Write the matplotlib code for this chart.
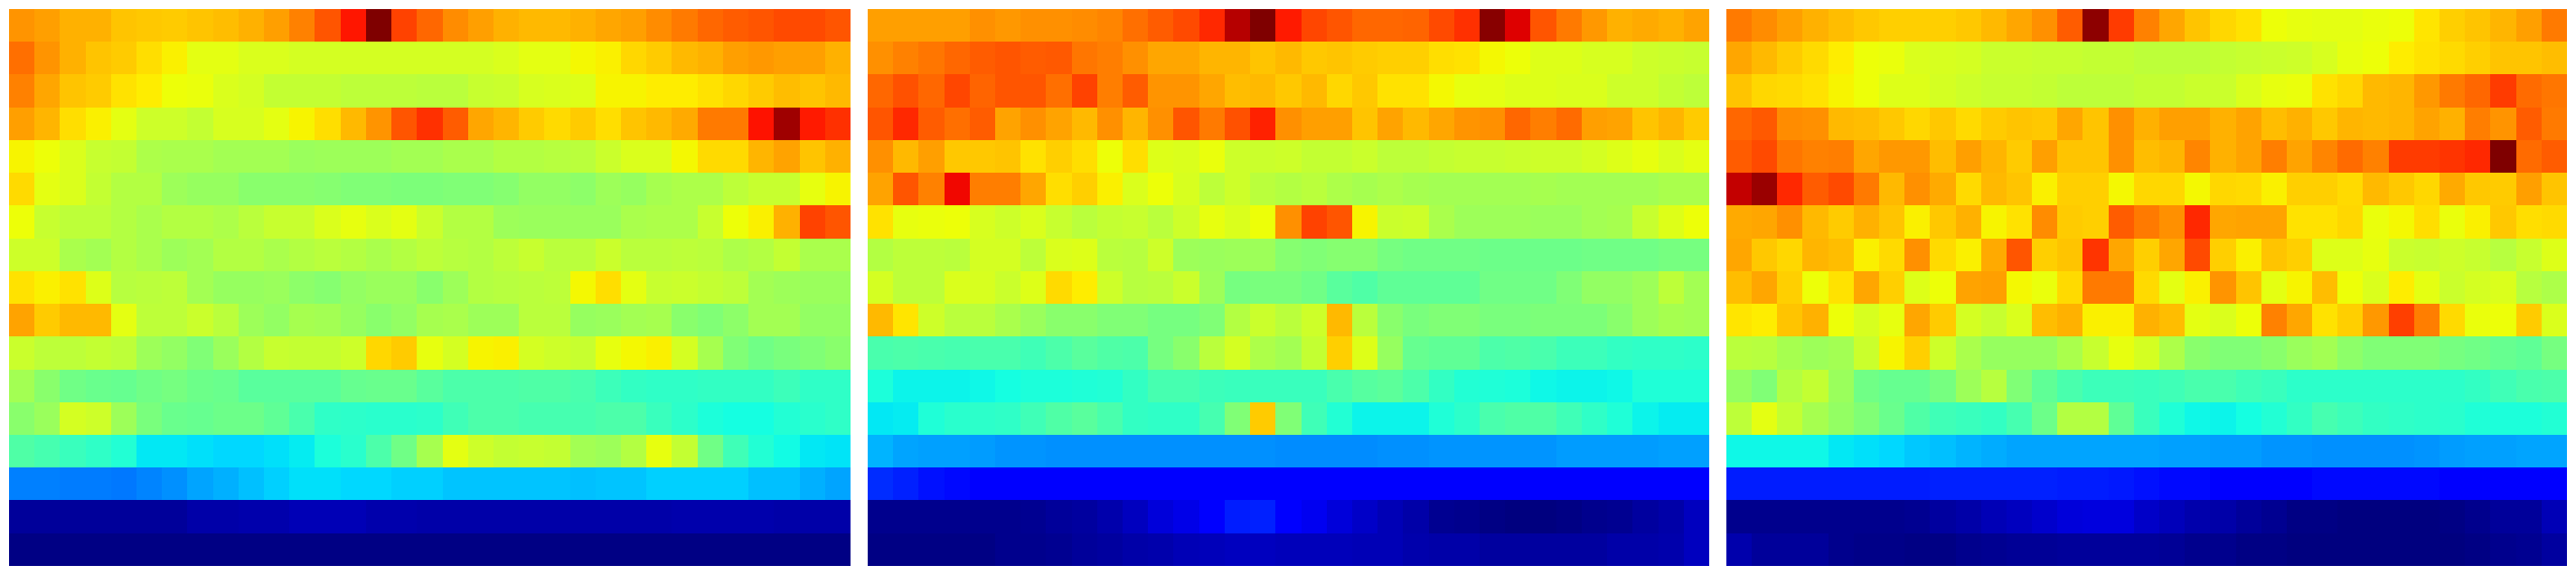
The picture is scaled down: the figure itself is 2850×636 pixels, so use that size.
#!/usr/bin/python3
# Three side by side jet heatmaps (scale 0-1000)

import numpy as np
import matplotlib
matplotlib.use('Agg')
import matplotlib.pyplot as plt
from matplotlib.colors import PowerNorm

left = [
    [740,730,710,710,690,685,680,690,695,710,730,760,810,880,1000,830,790,750,730,710,700,700,710,720,730,750,770,790,800,810,820,820,810],
    [780,740,710,690,680,660,640,610,610,600,600,590,590,590,590,590,590,590,590,600,610,610,630,640,670,680,700,710,730,735,730,730,710],
    [760,720,690,680,655,645,625,620,600,590,570,570,570,565,565,565,560,560,575,580,595,600,605,635,635,645,645,655,670,680,695,690,700],
    [730,705,660,640,610,585,585,570,595,595,610,635,660,700,740,810,850,800,720,705,680,665,680,660,690,700,715,770,770,885,970,875,850],
    [635,625,600,575,570,545,540,540,530,530,530,520,525,525,525,530,530,540,540,550,550,555,560,580,600,600,630,665,665,705,725,690,710],
    [665,610,600,570,550,550,525,515,515,500,500,500,495,490,490,485,485,490,490,495,510,510,505,525,515,535,545,545,565,575,575,615,635],
    [625,575,565,565,550,540,550,550,545,560,575,575,600,615,600,610,580,550,550,525,520,520,520,520,540,545,545,575,625,640,710,830,810],
    [585,585,540,530,550,540,525,530,550,550,540,550,560,550,540,550,565,555,550,565,575,560,560,580,560,560,565,560,545,550,570,540,540],
    [655,640,655,605,555,560,565,530,515,515,520,505,495,510,520,520,500,525,550,555,560,565,630,660,610,575,580,570,565,530,525,520,520],
    [725,680,700,700,610,565,565,580,560,525,510,535,530,515,500,510,535,540,525,525,560,560,515,520,530,535,500,490,505,530,530,510,510],
    [580,565,565,570,565,525,510,490,520,550,575,570,570,585,670,680,615,590,635,640,590,585,575,615,630,640,590,535,490,470,480,490,500],
    [530,500,470,460,455,470,475,465,460,440,440,440,440,455,460,460,440,425,425,425,430,430,420,405,395,390,390,395,395,395,405,390,390],
    [500,520,590,585,525,480,460,455,465,465,450,420,390,385,380,380,385,410,425,425,415,415,415,425,425,400,385,365,360,360,375,380,390],
    [430,415,400,390,375,335,335,325,320,320,325,340,365,380,425,470,535,610,585,570,575,570,530,525,550,615,570,470,410,375,355,335,330],
    [235,235,230,230,225,240,250,270,280,295,310,325,325,320,320,310,310,300,300,300,300,300,295,300,300,310,310,310,310,295,295,280,270],
    [20,20,20,20,20,20,20,30,30,35,35,40,40,40,35,35,30,30,30,30,30,30,30,30,30,30,35,35,35,35,30,30,30],
    [3,3,3,3,3,3,3,3,3,3,3,3,3,3,3,3,3,3,3,3,3,3,3,3,3,3,3,3,3,3,3,3,3],
]

middle = [
    [730,730,730,730,745,735,745,745,750,755,780,800,820,860,950,1000,875,825,810,790,790,795,820,850,990,910,810,770,735,710,715,710,725],
    [745,760,775,790,800,810,800,805,775,765,745,720,720,705,705,690,700,685,690,680,675,675,660,655,630,625,605,605,595,595,585,580,575],
    [790,815,790,825,795,810,810,780,830,765,800,740,740,720,695,700,685,700,670,685,655,655,630,615,610,605,605,600,600,585,585,570,565],
    [810,860,800,780,800,725,745,725,700,745,705,745,810,770,815,865,745,730,730,690,725,700,720,740,745,790,765,785,730,725,690,705,680],
    [745,700,730,685,685,690,655,675,660,625,660,605,600,620,585,580,585,570,570,580,565,565,570,575,575,580,585,585,590,605,615,600,610],
    [725,810,760,895,765,765,720,660,675,640,600,625,595,565,585,560,550,560,545,535,545,535,530,530,530,530,535,530,530,530,530,540,540],
    [655,615,620,625,595,585,600,575,560,570,575,560,585,615,600,625,745,830,810,635,580,585,540,525,525,525,520,520,530,535,575,605,625],
    [550,565,565,560,590,590,565,600,605,560,555,585,525,520,525,525,495,490,495,495,475,470,470,470,465,465,465,465,470,470,470,475,475],
    [590,565,565,600,595,580,605,665,645,585,555,560,580,525,475,480,480,470,440,430,450,450,450,450,470,470,470,490,510,510,525,565,530],
    [700,650,585,560,560,540,520,500,500,490,490,475,475,490,550,580,560,585,700,560,500,480,490,490,480,480,485,485,485,500,525,535,530],
    [420,425,420,415,420,420,410,425,440,430,425,475,500,560,590,545,530,570,675,605,515,455,450,450,425,430,420,405,405,395,390,390,385],
    [365,345,345,345,350,360,365,365,370,375,395,415,415,405,400,400,400,400,420,435,445,425,395,375,370,365,350,345,345,350,370,370,370],
    [335,340,370,380,385,390,410,430,440,420,395,390,390,415,490,680,490,410,375,345,345,345,370,385,420,430,430,410,390,370,345,340,340],
    [285,270,265,265,260,255,255,250,250,250,250,250,250,250,250,250,245,245,245,245,250,250,255,255,255,255,255,260,260,260,260,265,265],
    [155,145,130,120,115,115,115,115,115,115,115,115,115,115,115,115,115,115,115,115,115,115,115,115,115,115,115,115,115,115,115,115,115],
    [10,10,10,10,10,10,15,20,25,35,50,70,80,115,140,145,115,90,70,55,40,30,15,10,5,2,2,5,10,15,25,30,50],
    [5,5,3,3,3,10,12,15,20,25,30,35,40,45,50,50,45,45,45,40,40,35,30,30,25,25,25,25,25,30,30,35,50],
]

right = [
    [770,750,730,710,695,685,675,675,675,685,700,720,745,800,985,840,760,720,690,670,655,625,615,610,610,620,625,650,675,690,705,730,770],
    [720,700,680,665,645,625,620,600,595,590,580,580,575,575,570,570,565,565,565,570,575,580,585,595,615,625,645,655,665,675,690,690,695],
    [690,670,665,655,635,625,605,605,590,585,575,575,570,565,565,565,570,570,580,580,600,615,620,655,670,700,705,735,770,790,840,785,775],
    [790,805,750,745,700,695,685,670,685,665,680,690,685,720,690,745,710,730,730,710,725,695,710,685,705,700,705,725,710,765,740,800,770],
    [800,820,775,760,765,720,735,735,695,730,705,680,730,690,690,745,695,705,755,710,725,765,725,755,785,760,840,840,845,860,1000,785,800],
    [935,975,860,800,820,770,700,745,715,665,700,690,640,675,675,630,670,670,630,670,665,640,675,675,665,700,685,670,715,685,680,730,690],
    [715,720,745,700,680,710,690,640,685,710,635,655,750,680,675,800,770,745,860,720,725,725,655,655,670,620,630,660,620,640,685,660,665],
    [720,685,670,705,695,640,665,745,665,640,715,810,675,690,845,720,675,720,820,675,640,690,675,605,605,615,580,575,585,575,555,575,605],
    [695,720,675,625,655,720,675,605,625,725,730,630,620,665,770,770,665,610,640,740,690,610,635,695,625,600,645,610,580,590,600,555,545],
    [650,645,690,710,625,595,615,720,680,590,575,600,695,710,640,640,710,695,610,600,625,760,720,655,675,735,835,765,665,620,625,680,600],
    [560,555,535,525,530,580,635,675,585,540,515,515,515,540,575,615,590,545,500,490,490,500,520,530,505,490,490,490,475,470,455,450,475],
    [510,490,550,570,520,470,455,455,475,525,555,490,450,420,405,405,400,410,420,420,410,400,385,385,385,385,385,385,385,395,410,420,425],
    [565,610,570,535,510,490,460,430,410,400,395,415,465,550,550,450,400,370,350,345,360,375,395,415,405,395,390,385,380,370,365,365,375],
    [350,350,350,350,335,325,320,305,295,285,275,270,270,270,270,270,270,265,265,260,260,255,255,250,250,250,250,255,260,265,265,270,270],
    [140,140,140,140,140,140,140,140,145,145,145,145,145,140,140,135,130,120,120,115,115,115,115,120,120,120,120,120,115,115,115,115,115],
    [10,10,12,12,12,12,12,15,25,30,40,50,60,70,75,75,55,45,35,30,20,15,5,3,0,0,0,0,5,12,20,20,40],
    [35,20,20,20,10,8,8,6,6,12,15,18,18,20,22,22,20,18,12,10,6,3,2,2,2,2,2,2,2,5,10,15,25],
]

panels = [left, middle, right]
panel_x = [10, 960, 1910]

W, H = 2850, 636
fig = plt.figure(figsize=(W / 100, H / 100), dpi=100)
for vals, x0 in zip(panels, panel_x):
    ax = fig.add_axes([x0 / W, (H - 626) / H, 930 / W, 616 / H])
    ax.imshow(np.array(vals), cmap='jet', norm=PowerNorm(0.95, vmin=0, vmax=1000), aspect='auto', interpolation='nearest')
    ax.axis('off')
fig.savefig('out.png', dpi=100)
